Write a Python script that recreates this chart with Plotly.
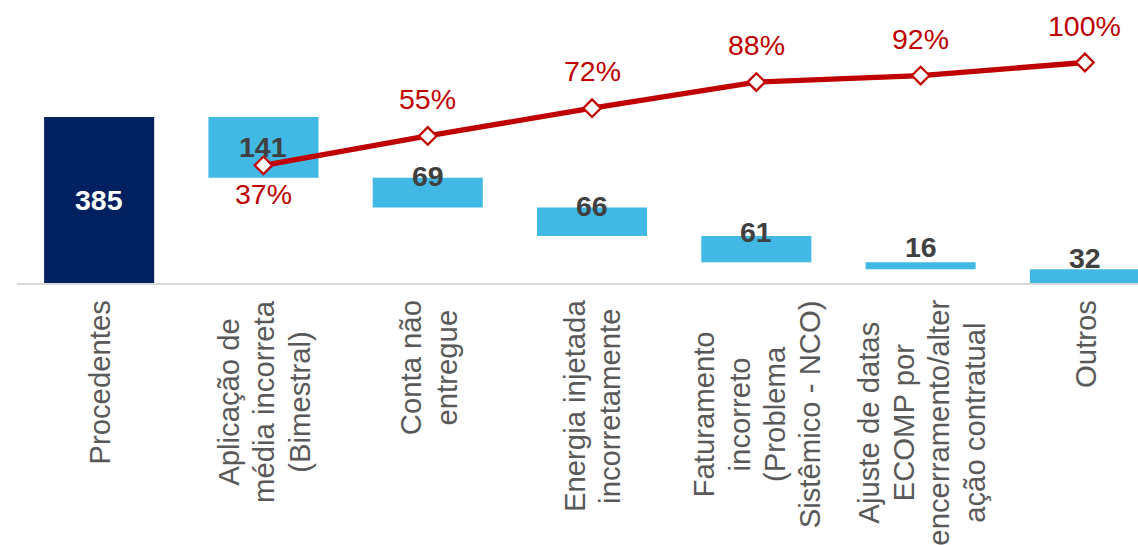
import plotly.graph_objects as go

# ---- data ----
categories = [
    "Procedentes",
    "Aplicação de<br>média incorreta<br>(Bimestral)",
    "Conta não<br>entregue",
    "Energia injetada<br>incorretamente",
    "Faturamento<br>incorreto<br>(Problema<br>Sistêmico - NCO)",
    "Ajuste de datas<br>ECOMP por<br>encerramento/alter<br>ação contratual",
    "Outros",
]
values = [385, 141, 69, 66, 61, 16, 32]
cum_pct = [37, 55, 72, 88, 92, 100]

# ---- styles ----
NAVY = "#002060"
LIGHT = "#42B9E5"
RED = "#C00000"
DARK = "#404040"
GRAY = "#595959"
FONT = "Liberation Sans, Arial, sans-serif"
FS = 28.5
CAT_GLYPH = 29.3     # glyph size of category labels
CAT_LINE = 27.2      # base size -> controls line spacing (1.3 em)

# waterfall bases (derived from values)
bases = [0]
running = values[0]
for v in values[1:]:
    running -= v
    bases.append(running)

colors = [NAVY] + [LIGHT] * (len(values) - 1)

fig = go.Figure()
fig.add_trace(go.Bar(
    x=categories, y=values, base=bases,
    marker=dict(color=colors, line=dict(width=0)),
    width=0.67, hoverinfo="skip", showlegend=False,
))
fig.add_trace(go.Scatter(
    x=categories[1:], y=cum_pct, yaxis="y2", mode="lines+markers",
    line=dict(color=RED, width=5.3),
    marker=dict(symbol="diamond", size=13.5, color="white",
                line=dict(color=RED, width=2.3)),
    hoverinfo="skip", showlegend=False,
))

annotations = []
# category labels (rotated, centered lines)
for c in categories:
    txt = "<br>".join(
        f'<span style="font-size:{CAT_GLYPH}px">{ln}</span>' for ln in c.split("<br>")
    )
    annotations.append(dict(
        x=c, xref="x", y=0, yref="paper", yanchor="top", xanchor="center",
        yshift=-15, textangle=-90, text=txt, showarrow=False, align="center",
        font=dict(family=FONT, size=CAT_LINE, color=GRAY),
    ))

# bar value labels
label_mode = ["center", "center", "top", "top", "top", "top", "top"]
label_lift = [0, 0, 2, 2, 4, 15, 11]
for i, (c, v, b) in enumerate(zip(categories, values, bases)):
    yv = b + v / 2 if label_mode[i] == "center" else b + v
    annotations.append(dict(
        x=c, xref="x", y=yv, yref="y", yanchor="middle", xanchor="center",
        yshift=label_lift[i], text=f"<b>{v}</b>", showarrow=False,
        font=dict(family=FONT, size=FS, color="white" if i == 0 else DARK),
    ))

# cumulative % labels
pct_shift = [-29, 37, 37, 37, 37, 37]
for c, p, s in zip(categories[1:], cum_pct, pct_shift):
    annotations.append(dict(
        x=c, xref="x", y=p, yref="y2", yanchor="middle", xanchor="center",
        yshift=s, text=f"{p}%", showarrow=False,
        font=dict(family=FONT, size=FS, color=RED),
    ))

fig.update_layout(
    width=1138, height=545, autosize=False,
    margin=dict(l=17, r=0, t=0, b=262, pad=0),
    paper_bgcolor="white", plot_bgcolor="white",
    xaxis=dict(type="category", range=[-0.5, 6.323], showticklabels=False,
               showgrid=False, zeroline=False, ticks="",
               showline=True, linecolor="#D9D9D9", linewidth=2),
    yaxis=dict(range=[0, 656.4], visible=False, showgrid=False, zeroline=False),
    yaxis2=dict(range=[-35.1, 138.3], overlaying="y", visible=False,
                showgrid=False, zeroline=False),
    annotations=annotations,
    font=dict(family=FONT),
)

fig.write_html("out.html")
